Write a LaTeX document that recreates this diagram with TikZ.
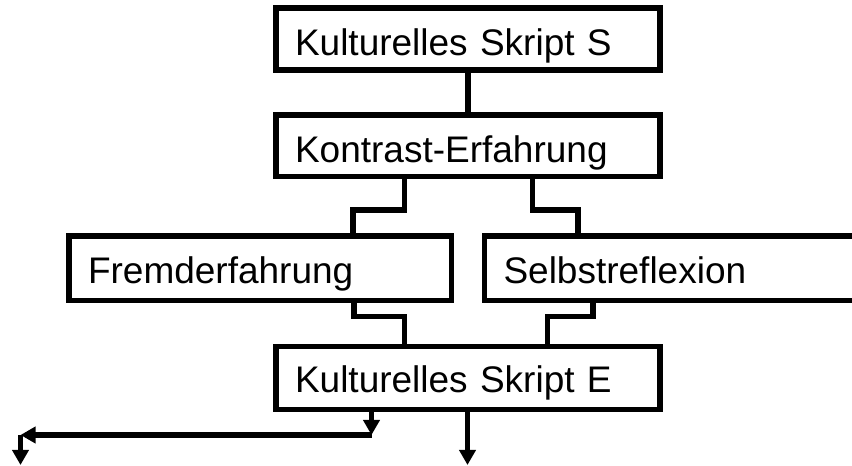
\documentclass[tikz,border=0pt]{standalone}
\usepackage{fontspec}
\setmainfont{Liberation Sans}
\usetikzlibrary{arrows.meta}
\begin{document}
\begin{tikzpicture}[x=1pt,y=1pt,
  box/.style={draw=black, line width=5.5pt, rectangle, inner xsep=19pt, inner ysep=0pt,
    text height=34pt, text depth=0pt, align=left,
    font=\fontsize{37}{40}\selectfont},
  conn/.style={draw=black, line width=5.5pt},
  arr/.style={conn, -{Triangle[width=16pt,length=15pt]}}]
\clip (0,0) rectangle (852,466);
\fill[white] (0,0) rectangle (852,466);
\node[box, text width=346pt, minimum height=62pt] (s) at (468,427) {Kulturelles Skript S};
\node[box, text width=346pt, minimum height=61.5pt] (k) at (468,320.25) {Kontrast-Erfahrung};
\node[box, text width=344.5pt, minimum height=64.5pt, text height=30pt] (f) at (260.25,197.75) {Fremderfahrung};
\node[box, text width=347.5pt, minimum height=64.5pt, text height=30pt] (sb) at (677.25,197.75) {Selbstreflexion};
\node[box, text width=346pt, minimum height=63pt, text height=30pt] (e) at (468,88) {Kulturelles Skript E};
\coordinate (j) at (371.5,31);
\coordinate (l) at (20.5,31);
\coordinate (lb) at (20.5,1);
\coordinate (mb) at (467.5,1);
\draw[conn] (s.south) -- (k.north);
\draw[conn] ([xshift=-63.5pt]k.south) -- ++(0,-31) -| ([xshift=286.5pt]f.north west);
\draw[conn] ([xshift=64.5pt]k.south) -- ++(0,-31) -| ([xshift=96pt]sb.north west);
\draw[conn] ([xshift=287.5pt]f.south west) -- ++(0,-13.5) -| ([xshift=-63.5pt]e.north);
\draw[conn] ([xshift=111pt]sb.south west) -- ++(0,-13.5) -| ([xshift=79.5pt]e.north);
\draw[arr] ([xshift=-96.5pt]e.south) -- (j);
\draw[arr] (j) -- (l);
\draw[arr] (l) -- (lb);
\draw[arr] (e.south -| mb) -- (mb);
\end{tikzpicture}
\end{document}
